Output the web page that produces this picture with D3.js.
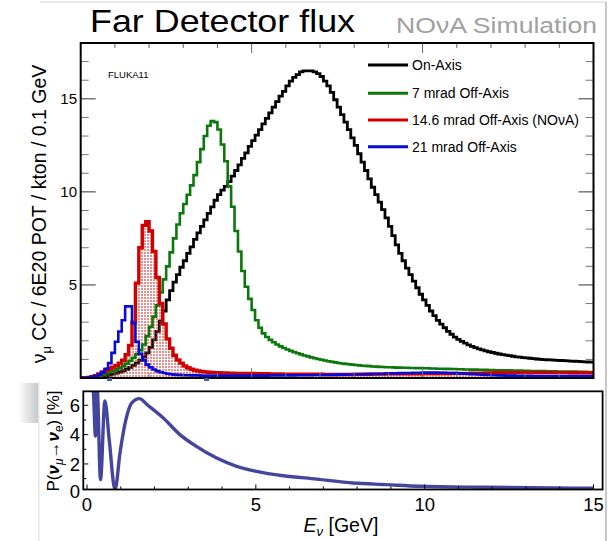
<!DOCTYPE html>
<html><head><meta charset="utf-8">
<script src="https://cdn.jsdelivr.net/npm/d3@7/dist/d3.min.js"></script>
<style>
body{margin:0;background:#fff}
svg{display:block}
text{font-family:"Liberation Sans",Arial,Helvetica,sans-serif}
</style>
</head><body>
<svg id="c" width="611" height="541"></svg>
<script>
// ---------------- DATA ----------------
// Flux histograms: 150 bins of 0.1 GeV from 0 to 15 GeV (each row = 1 GeV)
const onAxis = [
 0,0,0.01,0.02,0.04,0.06,0.09,0.12,0.16,0.21,
 0.26,0.32,0.39,0.47,0.57,0.68,0.8,0.95,1.12,1.35,
 1.65,2.05,2.5,3.05,3.6,4.2,4.7,5.15,5.55,5.95,
 6.3,6.7,7.05,7.45,7.8,8.15,8.5,8.85,9.2,9.55,
 9.85,10.1,10.3,10.55,10.85,11.15,11.45,11.8,12.1,12.45,
 12.75,13.05,13.35,13.65,13.95,14.25,14.55,14.85,15.15,15.4,
 15.7,15.95,16.15,16.3,16.45,16.5,16.5,16.5,16.45,16.35,
 16.2,15.95,15.7,15.35,14.95,14.55,14.15,13.75,13.35,12.9,
 12.5,12.05,11.6,11.15,10.7,10.25,9.85,9.45,9.05,8.6,
 8.15,7.65,7.15,6.7,6.3,5.9,5.55,5.2,4.85,4.5,
 4.2,3.9,3.6,3.35,3.1,2.9,2.7,2.5,2.35,2.2,
 2.08,1.97,1.87,1.78,1.7,1.63,1.57,1.51,1.46,1.41,
 1.37,1.33,1.29,1.26,1.23,1.2,1.17,1.14,1.12,1.1,
 1.08,1.06,1.04,1.02,1.0,0.99,0.98,0.97,0.96,0.95,
 0.94,0.93,0.92,0.91,0.9,0.89,0.88,0.87,0.86,0.85
];
const offAxis7 = [
 0,0.01,0.03,0.05,0.08,0.12,0.17,0.24,0.31,0.38,
 0.45,0.53,0.64,0.77,0.92,1.08,1.27,1.5,1.8,2.25,
 2.75,3.3,3.9,4.6,5.3,6.0,6.75,7.5,8.25,8.85,
 9.35,9.85,10.35,10.9,11.6,12.3,13.0,13.55,13.8,13.75,
 13.35,12.55,11.65,10.3,9.2,7.9,6.8,5.75,4.9,4.25,
 3.65,3.1,2.7,2.4,2.2,2.05,1.92,1.8,1.7,1.61,
 1.53,1.46,1.39,1.33,1.27,1.21,1.16,1.11,1.06,1.02,
 0.98,0.94,0.9,0.87,0.84,0.81,0.78,0.76,0.74,0.72,
 0.7,0.68,0.66,0.65,0.64,0.62,0.61,0.6,0.59,0.58,
 0.58,0.57,0.56,0.56,0.55,0.55,0.54,0.54,0.53,0.53,
 0.52,0.52,0.51,0.51,0.5,0.5,0.49,0.49,0.48,0.48,
 0.47,0.47,0.46,0.46,0.45,0.45,0.44,0.44,0.44,0.43,
 0.43,0.42,0.42,0.42,0.41,0.41,0.4,0.4,0.4,0.39,
 0.39,0.38,0.38,0.38,0.37,0.37,0.36,0.36,0.36,0.35,
 0.35,0.35,0.34,0.34,0.34,0.33,0.33,0.33,0.32,0.32
];
const offAxis146 = [
 0,0.01,0.03,0.07,0.13,0.22,0.32,0.42,0.5,0.58,
 0.68,0.8,0.95,1.25,1.75,3.0,5.1,7.0,8.2,8.4,
 7.9,6.8,5.4,4.0,2.9,2.1,1.6,1.22,0.97,0.8,
 0.65,0.55,0.47,0.42,0.38,0.35,0.33,0.31,0.3,0.29,
 0.28,0.27,0.27,0.26,0.26,0.25,0.25,0.25,0.24,0.24,
 0.24,0.23,0.23,0.23,0.23,0.22,0.22,0.22,0.22,0.21,
 0.21,0.21,0.21,0.21,0.2,0.2,0.2,0.2,0.2,0.2,
 0.2,0.19,0.19,0.19,0.19,0.19,0.19,0.19,0.19,0.19,
 0.2,0.2,0.2,0.2,0.2,0.21,0.21,0.21,0.21,0.22,
 0.22,0.22,0.22,0.22,0.23,0.23,0.23,0.23,0.23,0.23,
 0.24,0.24,0.24,0.24,0.24,0.24,0.24,0.24,0.25,0.25,
 0.25,0.25,0.25,0.25,0.26,0.26,0.26,0.26,0.27,0.27,
 0.27,0.28,0.28,0.28,0.28,0.28,0.28,0.29,0.29,0.29,
 0.29,0.29,0.29,0.29,0.29,0.29,0.29,0.29,0.29,0.29,
 0.29,0.29,0.29,0.28,0.28,0.28,0.28,0.28,0.28,0.28
];
const offAxis21 = [
 0,0.01,0.03,0.06,0.1,0.18,0.3,0.5,0.8,1.35,
 1.95,2.5,3.1,3.85,3.85,2.95,1.95,1.3,0.95,0.72,
 0.57,0.46,0.37,0.31,0.27,0.23,0.2,0.18,0.17,0.16,
 0.15,0.15,0.14,0.14,0.14,0.13,0.13,0.13,0.13,0.13,
 0.13,0.13,0.13,0.13,0.13,0.13,0.13,0.13,0.13,0.13,
 0.13,0.13,0.13,0.13,0.13,0.14,0.14,0.14,0.14,0.14,
 0.14,0.14,0.14,0.15,0.15,0.15,0.15,0.15,0.16,0.16,
 0.16,0.16,0.17,0.17,0.17,0.18,0.18,0.18,0.19,0.19,
 0.19,0.2,0.2,0.21,0.21,0.22,0.22,0.23,0.23,0.24,
 0.24,0.25,0.25,0.26,0.26,0.27,0.27,0.28,0.28,0.28,
 0.29,0.29,0.29,0.29,0.29,0.28,0.28,0.27,0.27,0.26,
 0.25,0.24,0.23,0.22,0.21,0.2,0.19,0.18,0.17,0.16,
 0.15,0.15,0.14,0.14,0.13,0.13,0.13,0.12,0.12,0.12,
 0.12,0.12,0.11,0.11,0.11,0.11,0.11,0.11,0.1,0.1,
 0.1,0.1,0.1,0.1,0.1,0.1,0.1,0.1,0.1,0.1
];
const seriesNames = ["On-Axis","7 mrad Off-Axis","14.6 mrad Off-Axis (NOνA)","21 mrad Off-Axis"];
const seriesColors = ["#000000","#0b780b","#d00000","#0a0ad8"];

// Oscillation probability (lower panel)
const probE = [0.15,0.19,0.25,0.30,0.40,0.53,0.66,0.83,0.98,1.15,1.32,1.55,1.8,2.26,2.75,3.24,3.84,4.43,5.02,5.81,6.8,7.88,8.87,9.85,11.8,13.8,15.0];
const probP = [7.5,6.9,3.9,7.2,0.93,6.3,3.6,0.25,2.8,5.0,6.15,6.45,6.0,5.13,4.0,3.2,2.4,1.84,1.5,1.2,0.97,0.70,0.59,0.48,0.41,0.36,0.34];

const topYTicks = [5,10,15];
const botXTicks = [0,5,10,15];
const botYTicks = [0,2,4,6];

// ---------------- DRAW ----------------
const svg = d3.select("#c");
const defs = svg.append("defs");

const xT = d3.scaleLinear().domain([0,15]).range([80.7,593.5]);
const yT = d3.scaleLinear().domain([0,18]).range([378,43]);

defs.append("clipPath").attr("id","clipT").append("rect")
  .attr("x",xT(0)).attr("y",yT(18)).attr("width",xT(15)-xT(0)).attr("height",yT(0)-yT(18));
const pat = defs.append("pattern").attr("id","dots").attr("patternUnits","userSpaceOnUse")
  .attr("width",3).attr("height",3);
pat.append("rect").attr("x",0).attr("y",0).attr("width",2).attr("height",2).attr("fill","rgba(222,50,50,0.55)");

const binLow = d3.range(150).map(i => i*0.1);
function stepPts(vals){ const p = vals.map((v,i)=>[binLow[i],v]); p.push([15, vals[vals.length-1]]); return p; }
const line = d3.line().x(d=>xT(d[0])).y(d=>yT(d[1])).curve(d3.curveStepAfter);
const area = d3.area().x(d=>xT(d[0])).y0(yT(0)).y1(d=>yT(d[1])).curve(d3.curveStepAfter);

const gT = svg.append("g").attr("clip-path","url(#clipT)");
gT.append("path").attr("d",line(stepPts(onAxis))).attr("fill","none").attr("stroke",seriesColors[0]).attr("stroke-width",2.8);
gT.append("path").attr("d",area(stepPts(offAxis146))).attr("fill","url(#dots)");
gT.append("path").attr("d",line(stepPts(offAxis7))).attr("fill","none").attr("stroke",seriesColors[1]).attr("stroke-width",2.6);
gT.append("path").attr("d",line(stepPts(offAxis146))).attr("fill","none").attr("stroke",seriesColors[2]).attr("stroke-width",3.4);
gT.append("path").attr("d",line(stepPts(offAxis21))).attr("fill","none").attr("stroke",seriesColors[3]).attr("stroke-width",2.6);

// ticks top panel
const tg = svg.append("g");
d3.range(1,15).forEach(v=>{
  const L = v%5===0 ? 10 : 5;
  tg.append("line").attr("x1",xT(v)).attr("x2",xT(v)).attr("y1",yT(18)).attr("y2",yT(18)+L).attr("stroke","#666").attr("stroke-width",1);
  tg.append("line").attr("x1",xT(v)).attr("x2",xT(v)).attr("y1",yT(0)).attr("y2",yT(0)-L).attr("stroke","#777").attr("stroke-width",1);
});
d3.range(1,18).forEach(v=>{
  const L = v%5===0 ? 15 : 8;
  const c = v%5===0 ? "#333" : "#777";
  tg.append("line").attr("x1",xT(0)).attr("x2",xT(0)+L).attr("y1",yT(v)).attr("y2",yT(v)).attr("stroke",c).attr("stroke-width",1);
  tg.append("line").attr("x1",xT(15)).attr("x2",xT(15)-L).attr("y1",yT(v)).attr("y2",yT(v)).attr("stroke",c).attr("stroke-width",1);
});
svg.append("rect").attr("x",xT(0)).attr("y",yT(18)).attr("width",xT(15)-xT(0)).attr("height",yT(0)-yT(18))
  .attr("fill","none").attr("stroke","#000").attr("stroke-width",2);

topYTicks.forEach(v=>{
  svg.append("text").attr("x",77).attr("y",yT(v)).attr("dy","0.36em").attr("text-anchor","end")
    .attr("font-size",15).text(v);
});

// y title top
const yt = svg.append("text").attr("transform","translate(46,214) rotate(-90)")
  .attr("text-anchor","middle").attr("font-size",19.5);
yt.append("tspan").text("ν");
yt.append("tspan").attr("font-size",13).attr("dy",5).text("μ");
yt.append("tspan").attr("dy",-5).text(" CC / 6E20 POT / kton / 0.1 GeV");

// titles
svg.append("text").attr("x",90).attr("y",32).attr("font-size",32).attr("textLength",265)
  .attr("lengthAdjust","spacingAndGlyphs").attr("fill","#000").text("Far Detector flux");
svg.append("text").attr("x",396).attr("y",33).attr("font-size",22).attr("textLength",201)
  .attr("lengthAdjust","spacingAndGlyphs").attr("fill","#a0a0a0").text("NOνA Simulation");
svg.append("text").attr("x",108).attr("y",78).attr("font-size",9.5).attr("fill","#000").text("FLUKA11");

// legend
const legY = [65,93.3,120,146.7];
seriesNames.forEach((n,i)=>{
  svg.append("line").attr("x1",368).attr("x2",408).attr("y1",legY[i]).attr("y2",legY[i])
    .attr("stroke",seriesColors[i]).attr("stroke-width",3);
  svg.append("text").attr("x",412).attr("y",legY[i]).attr("dy","0.36em").attr("font-size",14).text(n);
});

// faint screenshot borders
svg.append("line").attr("x1",40).attr("x2",606).attr("y1",2).attr("y2",2).attr("stroke","#e2e2e2").attr("stroke-width",1.5);
svg.append("line").attr("x1",606).attr("x2",606).attr("y1",2).attr("y2",541).attr("stroke","#c8c8c8").attr("stroke-width",2);

// ---------------- LOWER PANEL ----------------
const grad = defs.append("linearGradient").attr("id","sh").attr("x1",0).attr("x2",1).attr("y1",0).attr("y2",0);
grad.append("stop").attr("offset","0").attr("stop-color","#ffffff");
grad.append("stop").attr("offset","1").attr("stop-color","#c9c9c9");
svg.append("rect").attr("x",18).attr("y",383).attr("width",20).attr("height",40).attr("fill","url(#sh)");
svg.append("rect").attr("x",38).attr("y",382).attr("width",567).attr("height",159).attr("fill","#fff");
svg.append("rect").attr("x",38).attr("y",382).attr("width",1.5).attr("height",159).attr("fill","#e6e6e6");
svg.append("rect").attr("x",107).attr("y",378).attr("width",5).attr("height",3).attr("fill","#4d5b86");
svg.append("rect").attr("x",204).attr("y",378).attr("width",5).attr("height",3).attr("fill","#4d5b86");

const xB = d3.scaleLinear().domain([0,15]).range([87,593.5]);
const yB = d3.scaleLinear().domain([0,7]).range([493.3,390.6]);
const fx0 = xB(-0.11), fx1 = xB(15.27), fy0 = yB(6.95), fy1 = yB(0.26);

defs.append("clipPath").attr("id","clipB").append("rect")
  .attr("x",fx0).attr("y",fy0).attr("width",fx1-fx0).attr("height",fy1-fy0);

const pline = d3.line().x((d,i)=>xB(probE[i])).y((d,i)=>yB(probP[i])).curve(d3.curveMonotoneX);
svg.append("g").attr("clip-path","url(#clipB)").append("path")
  .attr("d",pline(probP)).attr("fill","none").attr("stroke","#45459e").attr("stroke-width",3.4)
  .attr("stroke-linejoin","round");

const bg = svg.append("g");
d3.range(0,16).forEach(v=>{
  const L = v%5===0 ? 5 : 3;
  bg.append("line").attr("x1",xB(v)).attr("x2",xB(v)).attr("y1",fy1).attr("y2",fy1-L).attr("stroke","#000").attr("stroke-width",1);
});
d3.range(1,7).forEach(v=>{
  const L = v%2===0 ? 5 : 3;
  bg.append("line").attr("x1",fx0).attr("x2",fx0+L).attr("y1",yB(v)).attr("y2",yB(v)).attr("stroke","#000").attr("stroke-width",1);
});
svg.append("rect").attr("x",fx0).attr("y",fy0).attr("width",fx1-fx0).attr("height",fy1-fy0)
  .attr("fill","none").attr("stroke","#000").attr("stroke-width",1.8);

botXTicks.forEach(v=>{
  svg.append("text").attr("x",xB(v)).attr("y",511).attr("text-anchor","middle").attr("font-size",18.5).text(v);
});
botYTicks.forEach(v=>{
  svg.append("text").attr("x",80).attr("y",v===0 ? 491.5 : yB(v)).attr("dy","0.36em").attr("text-anchor","end").attr("font-size",18.5).text(v);
});

const xl = svg.append("text").attr("x",341).attr("y",532).attr("text-anchor","middle").attr("font-size",19.5);
xl.append("tspan").attr("font-style","italic").text("E");
xl.append("tspan").attr("font-style","italic").attr("font-size",13).attr("dy",4).text("ν");
xl.append("tspan").attr("dy",-4).text(" [GeV]");

const yl = svg.append("text").attr("transform","translate(59,441) rotate(-90)")
  .attr("text-anchor","middle").attr("font-size",17);
yl.append("tspan").text("P(");
yl.append("tspan").attr("font-weight","bold").attr("font-style","italic").text("ν");
yl.append("tspan").attr("font-size",12).attr("font-style","italic").attr("dy",4).text("μ");
yl.append("tspan").attr("dy",-4).text("→");
yl.append("tspan").attr("font-weight","bold").attr("font-style","italic").text("ν");
yl.append("tspan").attr("font-size",12).attr("dy",4).text("e");
yl.append("tspan").attr("dy",-4).text(") [%]");
</script>
</body></html>
